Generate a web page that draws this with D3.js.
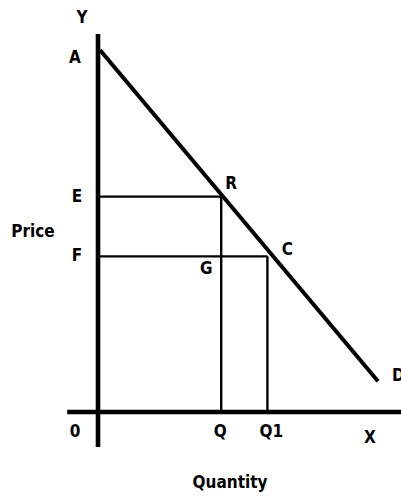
<!DOCTYPE html>
<html lang="en">
<head>
    <meta charset="UTF-8">
    <title>Demand</title>
    <script src="https://cdn.jsdelivr.net/npm/d3@7"></script>
    <style>
        body { margin: 0; background: #fff; }
        text {
            font-family: "DejaVu Sans Condensed", "Liberation Sans Narrow", sans-serif;
            font-weight: bold;
            font-size: 17px;
        }
    </style>
</head>
<body>

<div id="chart"></div>

<script>
    // demand line end points (quantity, price)
    const demandQ = [0, 100]
    const demandP = [100, 8.5]
    const demandLabels = ["A", "D"]

    // price levels on the Y axis
    const priceLabels = ["E", "F"]
    const priceValues = [59.5, 43]

    // quantities on the X axis
    const qtyLabels = ["Q", "Q1"]
    const qtyValues = [44, 60.5]

    // points on the curve
    const pointLabels = ["R", "C"]

    const width = 401, height = 497

    const svg = d3.select("#chart")
        .append("svg")
        .attr("width", width)
        .attr("height", height)

    var x = d3.scaleLinear().domain([0, 100]).range([98, 378])
    var y = d3.scaleLinear().domain([0, 100]).range([412, 50])

    // guide lines
    svg.append("g")
        .selectAll("line")
        .data(priceValues)
        .enter()
        .append("line")
        .attr("x1", x(0))
        .attr("x2", (d, i) => x(qtyValues[i]))
        .attr("y1", d => y(d))
        .attr("y2", d => y(d))
        .style("stroke", "#000")
        .style("stroke-width", 2.4)

    svg.append("g")
        .selectAll("line")
        .data(qtyValues)
        .enter()
        .append("line")
        .attr("x1", d => x(d))
        .attr("x2", d => x(d))
        .attr("y1", (d, i) => y(priceValues[i]))
        .attr("y2", y(0))
        .style("stroke", "#000")
        .style("stroke-width", 2.4)

    // axes
    svg.append("line")
        .attr("x1", x(-11)).attr("x2", x(109))
        .attr("y1", y(0)).attr("y2", y(0))
        .style("stroke", "#000")
        .style("stroke-width", 4.6)

    svg.append("line")
        .attr("x1", x(0)).attr("x2", x(0))
        .attr("y1", y(-9.7)).attr("y2", y(104.4))
        .style("stroke", "#000")
        .style("stroke-width", 4.6)

    // demand curve
    svg.append("line")
        .attr("x1", x(demandQ[0]) + 2).attr("x2", x(demandQ[1]))
        .attr("y1", y(demandP[0])).attr("y2", y(demandP[1]))
        .style("stroke", "#000")
        .style("stroke-width", 4)

    const label = (t, px, py, anchor) => svg.append("text")
        .attr("x", px)
        .attr("y", py)
        .attr("dy", "0.36em")
        .attr("text-anchor", anchor || "middle")
        .text(t)

    label("Y", x(0) - 16, 17)
    label(demandLabels[0], x(0) - 23, y(demandP[0]) + 7)
    label(demandLabels[1], x(demandQ[1]) + 14, y(demandP[1]) - 6, "start")
    priceLabels.forEach((t, i) => label(t, x(0) - 21, y(priceValues[i]) - 1))
    qtyLabels.forEach((t, i) => label(t, x(qtyValues[i]) + (i ? 4 : -1), y(0) + 19))
    label("0", x(0) - 23, y(0) + 19)
    label("X", 370, y(0) + 25)

    // R and C at the intersections, G at the corner
    label(pointLabels[0], x(qtyValues[0]) + 10, y(priceValues[0]) - 14)
    label(pointLabels[1], x(qtyValues[1]) + 20, y(priceValues[1]) - 7)
    label("G", x(qtyValues[0]) - 15, y(priceValues[1]) + 12)

    label("Price", 33, 231)
    label("Quantity", 230, 482)
</script>

</body>
</html>
